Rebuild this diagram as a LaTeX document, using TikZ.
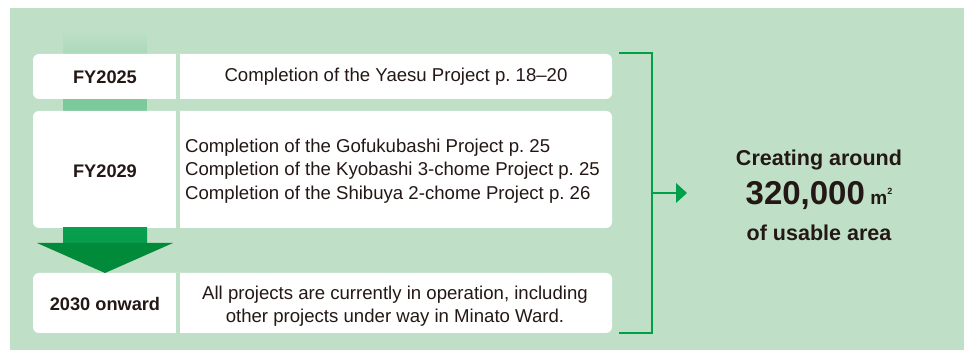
\documentclass[tikz,border=0pt]{standalone}
\usepackage{fontspec}
\setmainfont{Liberation Sans}
\definecolor{bg}{HTML}{BFE0C6}
\definecolor{linegreen}{HTML}{00A04A}
\definecolor{arrowdark}{HTML}{008A3A}
\definecolor{arrowlight}{HTML}{07A04F}
\definecolor{midbar}{HTML}{7CC99B}
\definecolor{txt}{HTML}{231815}
\begin{document}
\begin{tikzpicture}[x=1pt,y=-1pt,
  rowbox/.style={fill=white,rounded corners=6pt},
  txtnode/.style={text=txt,font=\fontsize{18.6}{23.5}\selectfont,inner sep=0pt},
  yearnode/.style={text=txt,font=\bfseries\fontsize{18.2}{23}\selectfont,inner sep=0pt},
  bigtxt/.style={text=txt,font=\bfseries\fontsize{21.5}{24}\selectfont,inner sep=0pt}]
\useasboundingbox (0,0) rectangle (964,352);
\fill[white] (0,0) rectangle (964,352);
\fill[bg] (10,8) rectangle (964,350);
% top faded bar
\shade[top color=bg, bottom color=bg!70!midbar] (63,30) rectangle (147,54);
% middle bar
\fill[midbar] (63,99) rectangle (147,111);
% rows
\fill[rowbox] (33,54) rectangle (612,99);
\fill[rowbox] (33,111) rectangle (612,228);
\fill[rowbox] (33,273) rectangle (612,333);
\foreach \a/\b in {54/99,111/228,273/333}{\fill[bg] (176,\a) rectangle (180,\b);}
% down arrow
\shade[top color=arrowlight, bottom color=arrowlight!85!arrowdark] (63,228) rectangle (147,243);
\fill[arrowdark] (37,243) -- (173,243) -- (105,273) -- cycle;
% text nodes
\node[yearnode] (y1) at (105,77) {FY2025};
\node[txtnode] (t1) at (396,77) {Completion of the Yaesu Project p.~18–20};
\node[yearnode] (y2) at (105,171) {FY2029};
\node[txtnode,align=left,anchor=west] (t2) at (185,171) {Completion of the Gofukubashi Project p.~25\\Completion of the Kyobashi 3-chome Project p.~25\\Completion of the Shibuya 2-chome Project p.~26};
\node[yearnode] (y3) at (105,304) {2030 onward};
\node[txtnode,align=center] (t3) at (395,306) {All projects are currently in operation, including\\other projects under way in Minato Ward.};
% bracket
\coordinate (bt) at (619,53);
\coordinate (bb) at (619,333);
\coordinate (bm) at (652,193);
\draw[linegreen,line width=2.2pt] (bt) -- (652,53) -- (652,333) -- (bb);
% result
\node[bigtxt] (r1) at (819,160) {Creating around};
\node[inner sep=0pt,text=txt] (r2) at (819,196) {\bfseries\fontsize{33}{34}\selectfont 320,000\,\normalfont\bfseries\fontsize{19}{20}\selectfont m\raisebox{0.55em}{\fontsize{9}{10}\selectfont 2}};
\node[bigtxt] (r3) at (819,233) {of usable area};
\coordinate (ae) at (687,193);
\draw[linegreen,line width=2.2pt] (bm) -- (676,193);
\fill[linegreen] (676,183) -- (ae) -- (676,203) -- cycle;
\end{tikzpicture}
\end{document}
